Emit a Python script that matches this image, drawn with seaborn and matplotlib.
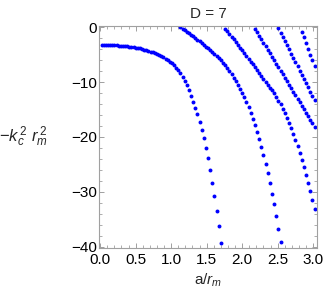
import numpy as np
import pandas as pd
import seaborn as sns
import matplotlib.pyplot as plt
from matplotlib.ticker import MultipleLocator

# branch 1 (lowest state)
a1 = [0.02, 0.05, 0.08, 0.11, 0.14, 0.17, 0.20, 0.23, 0.26, 0.29,
      0.32, 0.35, 0.38, 0.41, 0.44, 0.47, 0.50, 0.53, 0.56, 0.59,
      0.62, 0.65, 0.68, 0.71, 0.74, 0.77, 0.80, 0.83, 0.86, 0.89,
      0.92, 0.95, 0.98, 1.01, 1.04, 1.07, 1.10, 1.13, 1.16, 1.19,
      1.22, 1.25, 1.28, 1.31, 1.34, 1.37, 1.40, 1.43, 1.46, 1.49,
      1.52, 1.55, 1.58, 1.61, 1.64, 1.67, 1.70]
v1 = [-3.22, -3.22, -3.23, -3.24, -3.25, -3.27, -3.29, -3.32, -3.35, -3.38,
      -3.42, -3.46, -3.50, -3.55, -3.60, -3.66, -3.73, -3.80, -3.88, -3.97,
      -4.07, -4.18, -4.30, -4.43, -4.57, -4.72, -4.89, -5.07, -5.27, -5.49,
      -5.73, -5.99, -6.28, -6.60, -6.95, -7.35, -7.80, -8.35, -9.00, -9.75,
      -10.6, -11.5, -12.5, -13.55, -14.7, -15.9, -17.25, -18.7, -20.25, -22.0,
      -23.9, -26.0, -28.3, -30.8, -33.4, -36.3, -39.4]

# branch 2
a2 = [1.13, 1.16, 1.19, 1.22, 1.25, 1.28, 1.31, 1.34, 1.37, 1.40,
      1.43, 1.46, 1.49, 1.52, 1.55, 1.58, 1.61, 1.64, 1.67, 1.70,
      1.73, 1.76, 1.79, 1.82, 1.85, 1.88, 1.91, 1.94, 1.97, 2.00,
      2.03, 2.06, 2.09, 2.12, 2.15, 2.18, 2.21, 2.24, 2.27, 2.30,
      2.33, 2.36, 2.39, 2.42, 2.45, 2.48, 2.51, 2.54]
v2 = [-0.05, -0.30, -0.56, -0.83, -1.10, -1.38, -1.67, -1.96, -2.26, -2.57,
      -2.88, -3.20, -3.53, -3.87, -4.21, -4.56, -4.92, -5.29, -5.67, -6.06,
      -6.49, -6.96, -7.47, -8.02, -8.60, -9.22, -9.86, -10.53, -11.23, -11.98,
      -12.8, -13.7, -14.6, -15.6, -16.7, -17.8, -19.1, -20.4, -21.8, -23.3,
      -24.9, -26.6, -28.4, -30.3, -32.3, -34.4, -36.7, -39.1]

# branch 3
a3 = [1.76, 1.79, 1.82, 1.85, 1.88, 1.91, 1.94, 1.97, 2.00, 2.03,
      2.06, 2.09, 2.12, 2.15, 2.18, 2.21, 2.24, 2.27, 2.30, 2.33,
      2.36, 2.39, 2.42, 2.45, 2.48, 2.51, 2.54, 2.57, 2.60, 2.63,
      2.66, 2.69, 2.72, 2.75, 2.78, 2.81, 2.84, 2.87, 2.90, 2.93,
      2.96, 2.99, 3.02]
v3 = [-0.30, -0.78, -1.26, -1.75, -2.24, -2.73, -3.23, -3.73, -4.23, -4.74,
      -5.25, -5.76, -6.27, -6.79, -7.31, -7.83, -8.36, -8.89, -9.42, -9.96,
      -10.5, -11.0, -11.5, -12.07, -12.69, -13.36, -14.08, -14.85, -15.67, -16.54,
      -17.46, -18.43, -19.46, -20.55, -21.70, -22.91, -24.18, -25.51, -26.90, -28.35,
      -29.86, -31.43, -33.06]

# branch 4
a4 = [2.18, 2.21, 2.24, 2.27, 2.30, 2.33, 2.36, 2.39, 2.42, 2.45,
      2.48, 2.51, 2.54, 2.57, 2.60, 2.63, 2.66, 2.69, 2.72, 2.75,
      2.78, 2.81, 2.84, 2.87, 2.90, 2.93, 2.96, 2.99, 3.02]
v4 = [-0.30, -0.94, -1.57, -2.21, -2.84, -3.48, -4.12, -4.75, -5.39, -6.02,
      -6.66, -7.30, -7.93, -8.57, -9.20, -9.84, -10.48, -11.11, -11.75, -12.38,
      -13.02, -13.66, -14.29, -14.93, -15.56, -16.20, -16.84, -17.47, -18.11]

# branch 5
a5 = [2.51, 2.54, 2.57, 2.60, 2.63, 2.66, 2.69, 2.72, 2.75, 2.78,
      2.81, 2.84, 2.87, 2.90, 2.93, 2.96, 2.99, 3.02]
v5 = [-0.20, -0.97, -1.74, -2.51, -3.28, -4.05, -4.82, -5.59, -6.36, -7.13,
      -7.90, -8.67, -9.44, -10.21, -10.98, -11.75, -12.52, -13.29]

# branch 6
a6 = [2.84, 2.87, 2.90, 2.93, 2.96, 2.99, 3.02]
v6 = [-0.80, -1.85, -2.90, -3.95, -5.00, -6.05, -7.10]

branches = [(a1, v1), (a2, v2), (a3, v3), (a4, v4), (a5, v5), (a6, v6)]
df = pd.concat([pd.DataFrame({"a": a, "v": v, "branch": i})
                for i, (a, v) in enumerate(branches)], ignore_index=True)

sns.set_style("ticks")
plt.rcParams['font.family'] = ['Liberation Sans', 'DejaVu Sans']
plt.rcParams['mathtext.fontset'] = 'custom'
plt.rcParams['mathtext.rm'] = 'Liberation Sans'
plt.rcParams['mathtext.it'] = 'Liberation Sans:italic'

fig = plt.figure(figsize=(3.27, 2.93), dpi=100)
ax = fig.add_axes([0.304, 0.155, 0.665, 0.755])

sns.scatterplot(data=df, x="a", y="v", color="#0000ff", s=8, linewidth=0,
                legend=False, ax=ax, clip_on=True)

ax.set_xlim(-0.011, 3.052)
ax.set_ylim(-40.15, 0.15)
ax.xaxis.set_major_locator(MultipleLocator(0.5))
ax.xaxis.set_minor_locator(MultipleLocator(0.1))
ax.yaxis.set_major_locator(MultipleLocator(10))
ax.yaxis.set_minor_locator(MultipleLocator(2))
ax.xaxis.set_major_formatter(plt.FuncFormatter(lambda x, p: f"{x:.1f}"))
ax.yaxis.set_major_formatter(plt.FuncFormatter(lambda y, p: f"{y:.0f}".replace("-", "\u2212")))

for sp in ax.spines.values():
    sp.set_visible(True)
    sp.set_color("#a0a0a0")
    sp.set_linewidth(0.8)
ax.tick_params(which="both", direction="in", top=True, right=True,
               color="#a0a0a0", labelsize=11, labelcolor="black")
ax.tick_params(which="major", length=3.5, width=0.7)
ax.tick_params(which="minor", length=2, width=0.6)
ax.tick_params(axis="x", pad=4)
ax.tick_params(axis="y", pad=2)

ax.set_title("D = 7", fontsize=11, pad=6)
ax.set_xlabel("a/$r_m$", fontsize=11, labelpad=3)
ax.set_ylabel(r"$-k_c^{\,2}\ r_m^{\,2}$", fontsize=12, rotation=0,
              ha="left", va="center")
ax.yaxis.set_label_coords(-0.46, 0.5)

fig.savefig("out.png", dpi=100)
